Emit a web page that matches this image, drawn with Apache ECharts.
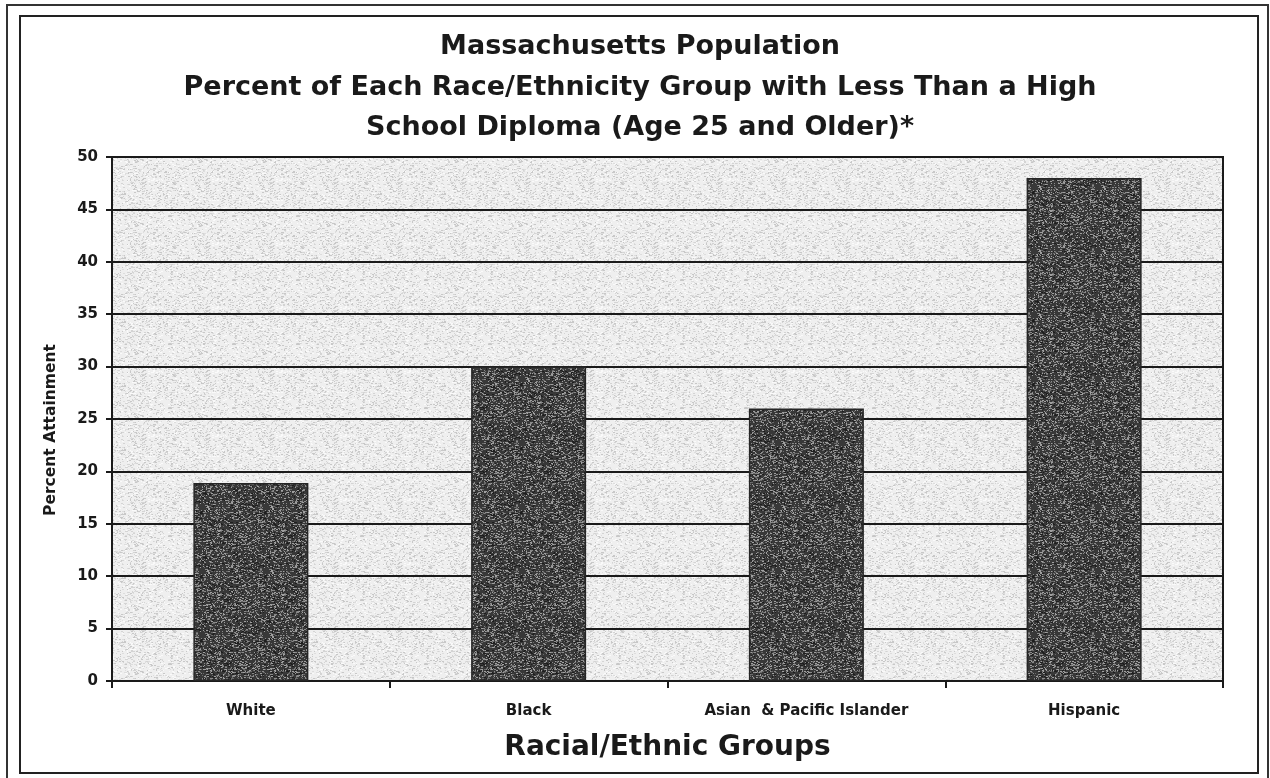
<!DOCTYPE html>
<html>
<head>
<meta charset="utf-8">
<title>Massachusetts Population</title>
<script src="https://cdn.jsdelivr.net/npm/echarts@6/dist/echarts.min.js"></script>
<style>
  html, body { margin: 0; padding: 0; background: #fff; }
  #chart { width: 1270px; height: 778px; }
</style>
</head>
<body>
<div id="chart"></div>
<script>
// Race/ethnicity groups and percent of adults (25+) without a high school diploma
const categories = ['White', 'Black', 'Asian  & Pacific Islander', 'Hispanic'];
const percentValues = [18.9, 30.0, 26.0, 48.0];
const yTicks = [0, 5, 10, 15, 20, 25, 30, 35, 40, 45, 50];

const titleLines = [
  'Massachusetts Population',
  'Percent of Each Race/Ethnicity Group with Less Than a High',
  'School Diploma (Age 25 and Older)*'
];
const yAxisTitle = 'Percent Attainment';
const xAxisTitle = 'Racial/Ethnic Groups';

const FONT = '"DejaVu Sans", Arial, sans-serif';
const INK = '#1a1a1a';

// Stippled fill tiles (deterministic speckle like a halftone print)
function speckleTile(size, base, dots, density, seed) {
  const c = document.createElement('canvas');
  c.width = size; c.height = size;
  const g = c.getContext('2d');
  g.fillStyle = base;
  g.fillRect(0, 0, size, size);
  let s = seed;
  const next = () => { s = (s * 1103515245 + 12345) & 0x7fffffff; return s / 0x7fffffff; };
  for (let i = 0; i < size * size * density; i++) {
    const x = Math.floor(next() * size);
    const y = Math.floor(next() * size);
    g.fillStyle = dots[Math.floor(next() * dots.length)];
    g.fillRect(x, y, next() < 0.5 ? 1 : 2, 1);
  }
  return c;
}

const barTile = speckleTile(64, '#383838', ['#8a8a8a', '#a0a0a0', '#1e1e1e', '#6a6a6a'], 0.35, 7);
const plotTile = speckleTile(64, '#efefef', ['#d4d4d4', '#c8c8c8', '#fafafa', '#dddddd'], 0.25, 13);

// Centered heading lines
const titleGraphics = titleLines.map((line, i) => ({
  type: 'text',
  x: 640,
  y: 47 + i * 40.5,
  silent: true,
  style: {
    text: line,
    fill: INK,
    font: 'bold 27px ' + FONT,
    textAlign: 'center',
    textVerticalAlign: 'middle'
  }
}));

const chart = echarts.init(document.getElementById('chart'));

chart.setOption({
  backgroundColor: '#ffffff',
  animation: false,
  graphic: [
    {
      type: 'rect',
      shape: { x: 7, y: 5, width: 1261, height: 780 },
      style: { fill: 'none', stroke: '#333', lineWidth: 2 },
      silent: true
    },
    {
      type: 'rect',
      shape: { x: 20, y: 16, width: 1238, height: 757 },
      style: { fill: 'none', stroke: '#222', lineWidth: 2 },
      silent: true
    },
    ...titleGraphics,
    {
      type: 'text',
      x: 51,
      y: 430,
      rotation: Math.PI / 2,
      silent: true,
      style: {
        text: yAxisTitle,
        fill: INK,
        font: 'bold 15.5px ' + FONT,
        textAlign: 'center',
        textVerticalAlign: 'middle'
      }
    }
  ],
  grid: {
    left: 112,
    right: 47,
    top: 157,
    bottom: 97,
    show: true,
    backgroundColor: { image: plotTile, repeat: 'repeat' },
    borderColor: INK,
    borderWidth: 2
  },
  xAxis: {
    type: 'category',
    data: categories,
    name: xAxisTitle,
    nameLocation: 'middle',
    nameGap: 53,
    nameTextStyle: {
      fontFamily: FONT,
      fontWeight: 'bold',
      fontSize: 28,
      color: INK
    },
    axisLine: { lineStyle: { color: INK, width: 2 } },
    axisTick: { show: true, length: 7, lineStyle: { color: INK, width: 2 } },
    axisLabel: {
      fontFamily: FONT,
      fontWeight: 'bold',
      fontSize: 15,
      color: INK,
      margin: 23,
      interval: 0
    }
  },
  yAxis: {
    type: 'value',
    min: yTicks[0],
    max: yTicks[yTicks.length - 1],
    interval: 5,
    axisLine: { show: true, lineStyle: { color: INK, width: 2 } },
    axisTick: { show: true, length: 6, lineStyle: { color: INK, width: 2 } },
    axisLabel: {
      fontFamily: FONT,
      fontWeight: 'bold',
      fontSize: 15,
      color: INK,
      margin: 14
    },
    splitLine: { show: true, lineStyle: { color: INK, width: 2 } }
  },
  series: [
    {
      type: 'bar',
      data: percentValues,
      barWidth: 115,
      itemStyle: {
        color: { image: barTile, repeat: 'repeat' },
        borderColor: '#262626',
        borderWidth: 1.5
      },
      z: 3
    }
  ]
});
</script>
</body>
</html>
